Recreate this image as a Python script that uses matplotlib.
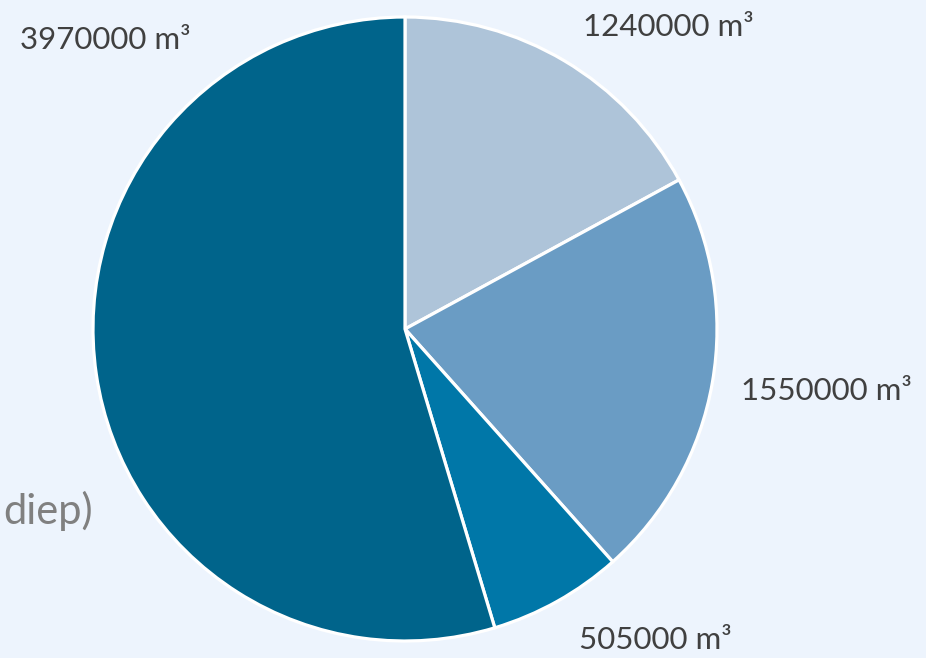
import matplotlib
matplotlib.use("Agg")
import matplotlib.pyplot as plt

volumes = [1240000, 1550000, 505000, 3970000]
labels = ["1240000 m³", "1550000 m³", "505000 m³", "3970000 m³"]
colors = ["#AEC4D9", "#6A9CC4", "#0077A8", "#00648B"]
label_pos = [(668, 631), (826, 267), (655, 18), (105, 618)]

BG = "#EDF4FD"
W, H = 926, 658

plt.rcParams["font.family"] = ["Lato", "DejaVu Sans"]

fig = plt.figure(figsize=(W / 100, H / 100), dpi=100, facecolor=BG)
ax = fig.add_axes([0, 0, 1, 1])
ax.set_facecolor(BG)

ax.pie(volumes, colors=colors, startangle=90, counterclock=False,
       center=(405, 329), radius=312,
       wedgeprops={"edgecolor": "white", "linewidth": 2.3})

for txt, (x, y) in zip(labels, label_pos):
    ax.text(x, y, txt, ha="center", va="center", fontsize=22.5, color="#404040")

# restje van een tekst die links buiten beeld valt
ax.text(3, 147, "diep)", ha="left", va="center", fontsize=30, color="#808080")

ax.set_xlim(0, W)
ax.set_ylim(0, H)
ax.set_aspect("equal")
ax.axis("off")

fig.savefig("out.png", dpi=100, facecolor=BG)
